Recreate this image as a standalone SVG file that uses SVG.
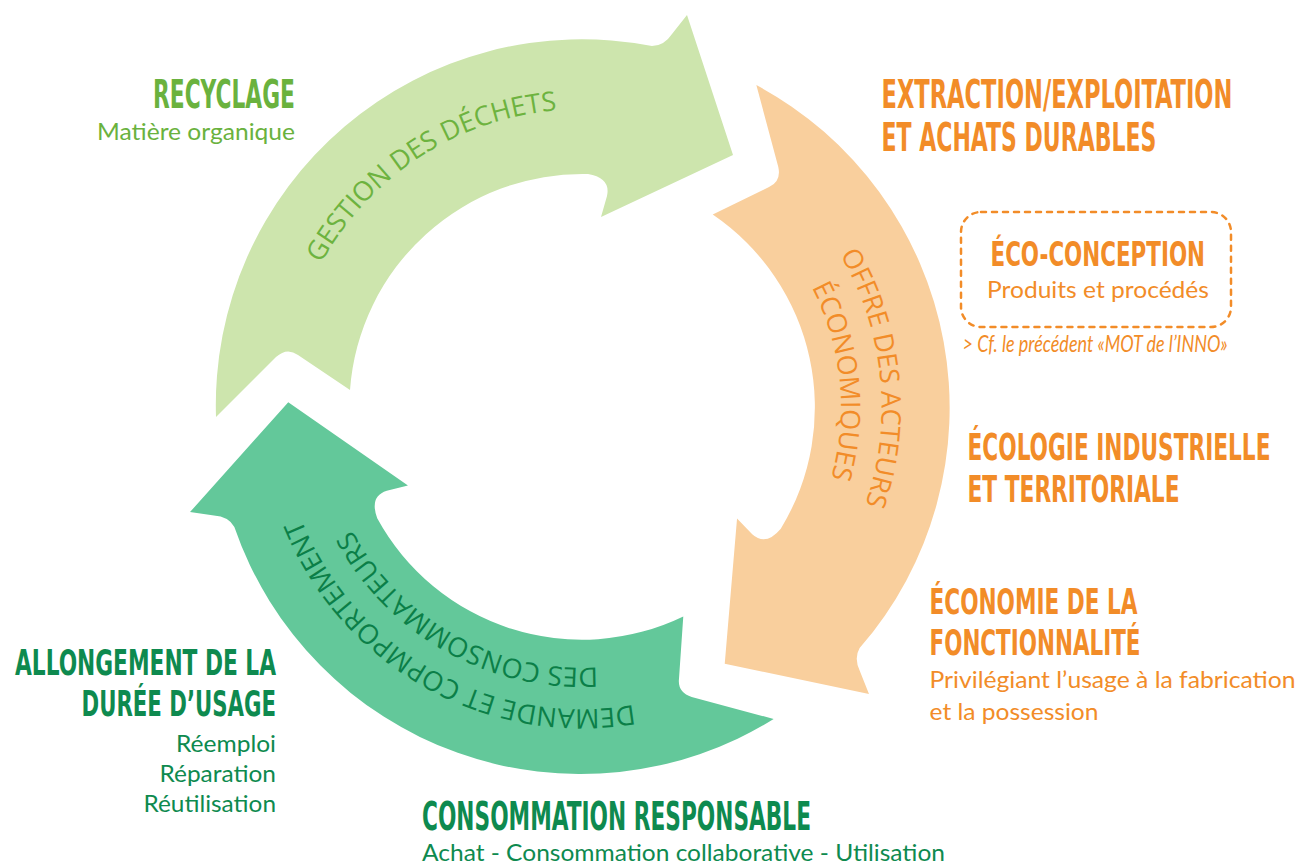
<svg xmlns="http://www.w3.org/2000/svg" xmlns:xlink="http://www.w3.org/1999/xlink" width="1304" height="865" viewBox="0 0 1304 865">
<style>
.h{font-family:"DejaVu Sans Condensed","Liberation Sans Narrow","DejaVu Sans","Liberation Sans",sans-serif;font-weight:bold;font-stretch:condensed}
.s{font-family:Lato,"Open Sans",sans-serif;font-size:24px}
.arc{font-family:"Open Sans","Noto Sans",sans-serif;font-size:27px}
.lg{fill:#6AB23E}
.or{fill:#F28C28}
.dg{fill:#0E8A4F}
</style>
<defs>
<path id="arrowShape" d="M216,417 A366,366 0 0 1 652,46 Q664,46 672,34 L687,15 L733,155 L601,217 L607,196 Q611,178 588,174 A233,233 0 0 0 350,390 L298,355 Q287,347 276,357 Z"/>
<path id="pGreen" d="M307.7,523.4 A298,298 0 0 1 799.9,203.8"/>
<path id="pOrange1" d="M604,108.3 A299.5,299.5 0 0 1 663.6,695.2"/>
<path id="pOrange2" d="M601,148.7 A259,259 0 0 1 652.5,656.2"/>
<path id="pDark1" d="M816.1,597.9 A302,302 0 0 1 296.8,307.6"/>
<path id="pDark2" d="M784.2,571.9 A261,261 0 0 1 335.5,321.2"/>
</defs>

<g id="arrow-gestion">
<use href="#arrowShape" fill="#CDE5AD"/>
<text class="arc" fill="#6DB33F"><textPath href="#pGreen" startOffset="50%" text-anchor="middle">GESTION DES DÉCHETS</textPath></text>
</g>
<g id="arrow-offre">
<use href="#arrowShape" fill="#F9CF9D" transform="rotate(120 582 407)"/>
<text class="arc" fill="#F28C28"><textPath href="#pOrange1" startOffset="50%" text-anchor="middle">OFFRE DES ACTEURS</textPath></text>
<text class="arc" fill="#F28C28"><textPath href="#pOrange2" startOffset="50%" text-anchor="middle">ÉCONOMIQUES</textPath></text>
</g>
<g id="arrow-demande">
<use href="#arrowShape" fill="#63C89A" transform="rotate(240 582 407)"/>
<text class="arc" fill="#0B7F48"><textPath href="#pDark1" startOffset="50%" text-anchor="middle">DEMANDE ET COPMPORTEMENT</textPath></text>
<text class="arc" fill="#0B7F48"><textPath href="#pDark2" startOffset="50%" text-anchor="middle">DES CONSOMMATEURS</textPath></text>
</g>

<g id="connectors"></g>

<g id="recyclage">
<text class="h lg" transform="translate(153,107.5) scale(0.62,1)" font-size="39" textLength="229" lengthAdjust="spacingAndGlyphs">RECYCLAGE</text>
<text class="s lg" x="97" y="140" textLength="198" lengthAdjust="spacingAndGlyphs">Matière organique</text>
</g>

<g id="extraction">
<text class="h or" transform="translate(881.5,107.5) scale(0.62,1)" font-size="39" textLength="566" lengthAdjust="spacingAndGlyphs">EXTRACTION/EXPLOITATION</text>
<text class="h or" transform="translate(881.5,150.5) scale(0.62,1)" font-size="39" textLength="443.5" lengthAdjust="spacingAndGlyphs">ET ACHATS DURABLES</text>
</g>

<g id="eco-conception">
<rect x="961" y="212" width="270" height="115" rx="20" ry="20" fill="none" stroke="#F28C28" stroke-width="2.5" stroke-dasharray="5 6" stroke-linecap="round"/>
<text class="h or" transform="translate(990.5,266) scale(0.62,1)" font-size="33" textLength="346" lengthAdjust="spacingAndGlyphs">ÉCO-CONCEPTION</text>
<text class="s or" x="987" y="298" textLength="222" lengthAdjust="spacingAndGlyphs">Produits et procédés</text>
<text class="s or" x="962.5" y="352" font-size="16" font-style="italic" textLength="265" lengthAdjust="spacingAndGlyphs">&gt; Cf. le précédent «MOT de l’INNO»</text>
</g>

<g id="ecologie">
<text class="h or" transform="translate(967.5,459.5) scale(0.62,1)" font-size="37" textLength="488.7" lengthAdjust="spacingAndGlyphs">ÉCOLOGIE INDUSTRIELLE</text>
<text class="h or" transform="translate(967.5,501.5) scale(0.62,1)" font-size="37" textLength="342" lengthAdjust="spacingAndGlyphs">ET TERRITORIALE</text>
</g>

<g id="economie">
<text class="h or" transform="translate(929.5,614) scale(0.62,1)" font-size="36" textLength="335.5" lengthAdjust="spacingAndGlyphs">ÉCONOMIE DE LA</text>
<text class="h or" transform="translate(929.5,654.5) scale(0.62,1)" font-size="36" textLength="340.3" lengthAdjust="spacingAndGlyphs">FONCTIONNALITÉ</text>
<text class="s or" x="929.5" y="688" textLength="366" lengthAdjust="spacingAndGlyphs">Privilégiant l’usage à la fabrication</text>
<text class="s or" x="929.5" y="720" textLength="169" lengthAdjust="spacingAndGlyphs">et la possession</text>
</g>

<g id="allongement">
<text class="h dg" transform="translate(15,675) scale(0.62,1)" font-size="36" textLength="421" lengthAdjust="spacingAndGlyphs">ALLONGEMENT DE LA</text>
<text class="h dg" transform="translate(81.5,716) scale(0.62,1)" font-size="36" textLength="313.7" lengthAdjust="spacingAndGlyphs">DURÉE D’USAGE</text>
<text class="s dg" x="176" y="752" textLength="100" lengthAdjust="spacingAndGlyphs">Réemploi</text>
<text class="s dg" x="159.5" y="782" textLength="116.5" lengthAdjust="spacingAndGlyphs">Réparation</text>
<text class="s dg" x="143.5" y="812" textLength="132.5" lengthAdjust="spacingAndGlyphs">Réutilisation</text>
</g>

<g id="consommation">
<text class="h dg" transform="translate(422,829.5) scale(0.62,1)" font-size="39" textLength="627.4" lengthAdjust="spacingAndGlyphs">CONSOMMATION RESPONSABLE</text>
<text class="s dg" x="422" y="861" textLength="523" lengthAdjust="spacingAndGlyphs">Achat - Consommation collaborative - Utilisation</text>
</g>
</svg>
